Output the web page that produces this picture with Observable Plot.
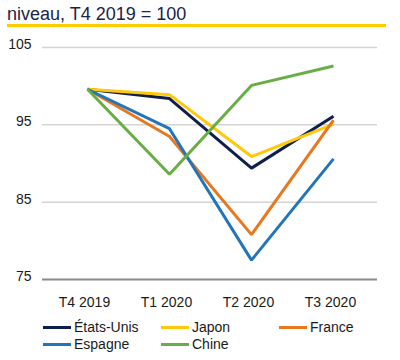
<!DOCTYPE html>
<html>
<head>
<meta charset="utf-8">
<script src="https://cdn.jsdelivr.net/npm/d3@7"></script>
<script src="https://cdn.jsdelivr.net/npm/@observablehq/plot@0.6"></script>
<style>
  html, body { margin: 0; padding: 0; background: #fff; }
  body { width: 400px; height: 360px; position: relative; overflow: hidden; font-family: "Liberation Sans", Arial, sans-serif; }
  #title { position: absolute; left: 7px; top: 5px; font-size: 18px; line-height: 18px; color: #1b2346; white-space: nowrap; }
  #rule { position: absolute; left: 7px; top: 24px; width: 379px; height: 2.5px; background: #ffcc00; }
  #chart { position: absolute; left: 0; top: 28px; }
  #legend { position: absolute; left: 43px; top: 319px; display: grid; grid-template-columns: 118px 118px 118px; font-size: 14px; line-height: 17px; color: #1a1a1a; }
  .item { display: flex; align-items: center; white-space: nowrap; }
  .sw { display: inline-block; width: 28px; height: 3px; margin-right: 3px; }
</style>
</head>
<body>
<div id="title">niveau, T4 2019 = 100</div>
<div id="rule"></div>
<div id="chart"></div>
<div id="legend"></div>
<script>
const quarters = ["T4 2019", "T1 2020", "T2 2020", "T3 2020"];
const seriesNames = ["États-Unis", "Japon", "France", "Espagne", "Chine"];
const seriesColors = ["#0f1e4a", "#ffc80a", "#e8771e", "#2275b8", "#68ad45"];
const etatsUnis = [99.6, 98.4, 89.4, 96.1];
const japon = [99.6, 98.9, 90.9, 95.1];
const france = [99.6, 93.5, 80.8, 95.6];
const espagne = [99.6, 94.5, 77.5, 90.6];
const chine = [99.6, 88.6, 100.1, 102.6];
const yTicks = [75, 85, 95, 105];

const seriesValues = [etatsUnis, japon, france, espagne, chine];
const data = [];
seriesNames.forEach((name, i) => {
  quarters.forEach((q, j) => data.push({ serie: name, quarter: q, value: seriesValues[i][j] }));
});

const plot = Plot.plot({
  width: 400,
  height: 290,
  marginLeft: 42,
  marginRight: 23,
  marginTop: 19,
  marginBottom: 39,
  style: { fontFamily: "Liberation Sans, Arial, sans-serif", fontSize: "14px", color: "#1a1a1a", background: "#fff" },
  x: { type: "point", domain: quarters, padding: 0.53, label: null },
  y: { domain: [75, 105], label: null },
  color: { domain: seriesNames, range: seriesColors },
  marks: [
    Plot.ruleY(yTicks.filter(t => t !== 75), { stroke: "#d4d4d4", strokeWidth: 1.5 }),
    Plot.ruleY([75], { stroke: "#8a8a8a", strokeWidth: 2 }),
    Plot.axisY(yTicks, { tickSize: 0, tickPadding: 11, dy: -3, label: null, fontSize: 14 }),
    Plot.axisX(quarters, { tickSize: 0, tickPadding: 18, dx: -3, label: null, fontSize: 14 }),
    Plot.line(data, { x: "quarter", y: "value", z: "serie", stroke: "serie", strokeWidth: 3, strokeLinejoin: "miter", strokeLinecap: "butt" })
  ]
});
document.getElementById("chart").appendChild(plot);

const legend = document.getElementById("legend");
seriesNames.forEach((name, i) => {
  const item = document.createElement("div");
  item.className = "item";
  const sw = document.createElement("span");
  sw.className = "sw";
  sw.style.background = seriesColors[i];
  item.appendChild(sw);
  item.appendChild(document.createTextNode(name));
  legend.appendChild(item);
});
</script>
</body>
</html>
